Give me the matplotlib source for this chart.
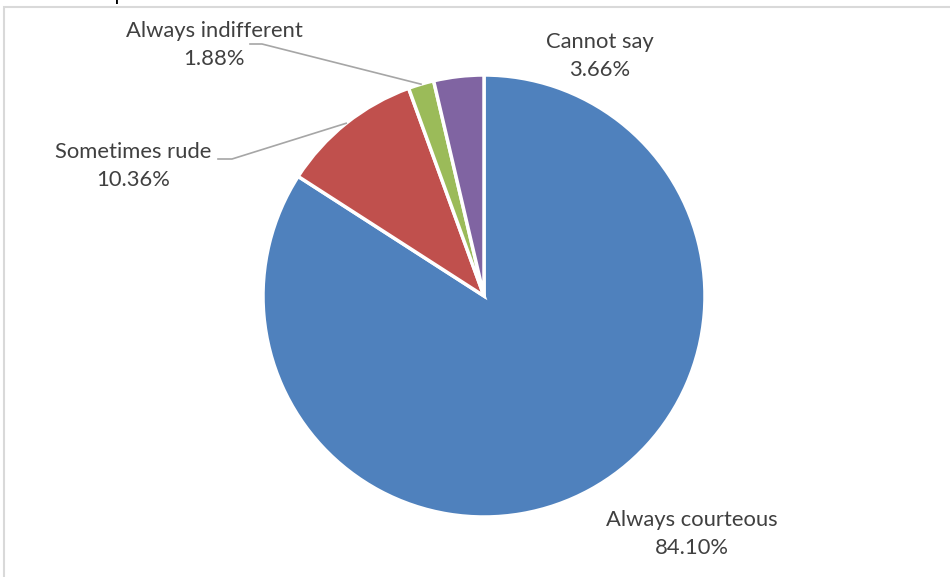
import numpy as np
import matplotlib.pyplot as plt
from matplotlib.patches import Rectangle

labels = ["Always courteous", "Sometimes rude", "Always indifferent", "Cannot say"]
shares = [84.10, 10.36, 1.88, 3.66]
colors = ["#4F81BD", "#C0504D", "#9BBB59", "#8064A2"]

plt.rcParams["font.family"] = ["Lato", "DejaVu Sans"]

W, H = 950, 577
cx, cy, R = 484, 296, 221

fig = plt.figure(figsize=(W / 100, H / 100), dpi=100)
fig.patches.append(Rectangle((4 / W, -0.1), 1.2, 1 - 7 / H + 0.1, transform=fig.transFigure,
                             fill=False, edgecolor="#D9D9D9", linewidth=1.5))
# title of the chart is cropped off at the top of the screenshot
fig.text(57 / W, 1 - 0.5 / H, "of Respondents", fontsize=15, color="#000000", va="baseline")

ax = fig.add_axes([(cx - R) / W, (H - cy - R) / H, 2 * R / W, 2 * R / H])
wedges, _ = ax.pie(shares, colors=colors, startangle=90, counterclock=False,
                   wedgeprops=dict(edgecolor="white", linewidth=2.5))
ax.set_xlim(-1, 1)
ax.set_ylim(-1, 1)
ax.set_aspect("equal")
ax.axis("off")


def px(x, y):
    return (x - cx) / R, (cy - y) / R


# label centres (pixels) and optional leader knee/end
label_pos = [(692, 534), (133, 166), (214, 45), (600, 56)]
leaders = {1: ((232, 159), (218, 159)), 2: ((262, 44), (250, 44))}

for i, w in enumerate(wedges):
    lx, ly = px(*label_pos[i])
    ax.text(lx, ly, f"{labels[i]}\n{shares[i]:.2f}%", ha="center", va="center",
            fontsize=15.8, color="#404040", linespacing=1.5, clip_on=False)
    if i in leaders:
        mid = np.deg2rad((w.theta1 + w.theta2) / 2)
        k = px(*leaders[i][0])
        e = px(*leaders[i][1])
        ax.plot([np.cos(mid), k[0], e[0]], [np.sin(mid), k[1], e[1]],
                color="#A6A6A6", linewidth=1.2, clip_on=False)

fig.savefig("out.png", dpi=100)
